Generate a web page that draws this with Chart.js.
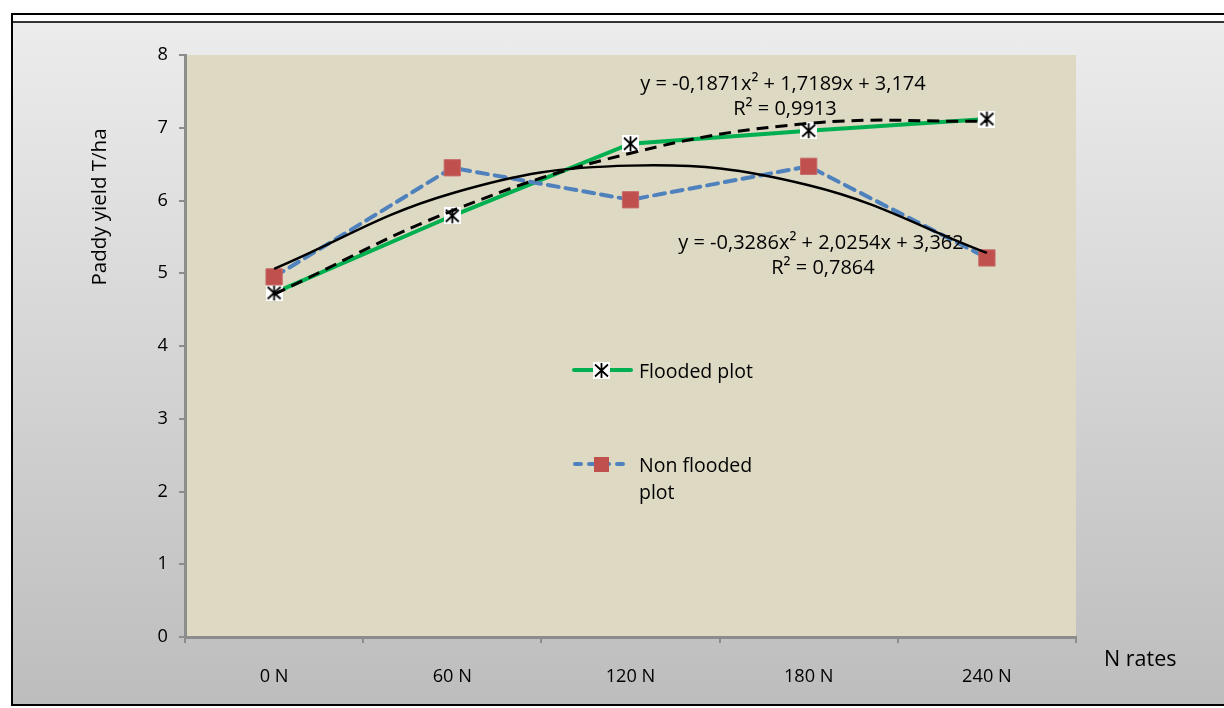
<!DOCTYPE html>
<html>
<head>
<meta charset="utf-8">
<script src="https://cdn.jsdelivr.net/npm/chart.js@4.4.1/dist/chart.umd.min.js"></script>
<style>
  html, body { margin: 0; padding: 0; background: #fff; }
  #frame { position: absolute; left: 11px; top: 13px; width: 1230px; height: 689px;
           border: 2px solid #000; border-right: none; background: #fff; }
  #panel { position: absolute; left: 0; top: 6px; right: 0; bottom: 0;
           border-top: 2px solid #333; background: linear-gradient(#ececec, #bdbdbd); }
  #wrap { position: absolute; left: 0; top: 0; width: 1224px; height: 708px; }
</style>
</head>
<body>
<div id="frame"><div id="panel"></div></div>
<div id="wrap"><canvas id="chart" width="1224" height="708"></canvas></div>
<script>
// Paddy yield vs N rate, flooded vs non flooded plots, with Excel-style
// 2nd-order trendlines and their equations.
const categories = ['0 N', '60 N', '120 N', '180 N', '240 N'];
const floodedYield = [4.73, 5.79, 6.78, 6.96, 7.12];
const nonFloodedYield = [4.95, 6.45, 6.01, 6.47, 5.21];
// trendline values read at each category
const floodedTrend = [4.71, 5.86, 6.65, 7.06, 7.09];
const nonFloodedTrend = [5.06, 6.10, 6.48, 6.21, 5.28];
const yTicks = [0, 1, 2, 3, 4, 5, 6, 7, 8];

const FONT = '"Open Sans", "Noto Sans", sans-serif';
const GREEN = '#00b050';
const BLUE = '#4f81bd';
const RED = '#c0504d';

// white square with a black asterisk, like the Excel star marker
function starMarker() {
  const c = document.createElement('canvas');
  c.width = 17; c.height = 17;
  const g = c.getContext('2d');
  g.fillStyle = '#fff';
  g.fillRect(0, 0, 17, 17);
  g.strokeStyle = '#000';
  g.lineWidth = 1.8;
  g.beginPath();
  g.moveTo(8.5, 1); g.lineTo(8.5, 16);
  g.moveTo(2, 2.5); g.lineTo(15, 14.5);
  g.moveTo(15, 2.5); g.lineTo(2, 14.5);
  g.stroke();
  return c;
}
const STAR = starMarker();

const decor = {
  id: 'decor',
  beforeDraw(chart) {
    const { ctx, chartArea: a } = chart;
    ctx.save();
    ctx.fillStyle = '#ddd9c3';
    ctx.fillRect(a.left, a.top, a.right - a.left, a.bottom - a.top);
    ctx.restore();
  },
  afterDraw(chart) {
    const ctx = chart.ctx;
    ctx.save();
    ctx.fillStyle = '#000';
    ctx.font = '20.5px ' + FONT;
    ctx.textBaseline = 'middle';

    // axis titles
    ctx.save();
    ctx.translate(100, 207);
    ctx.rotate(-Math.PI / 2);
    ctx.textAlign = 'center';
    ctx.fillText('Paddy yield T/ha', 0, 0);
    ctx.restore();
    ctx.textAlign = 'left';
    ctx.font = '21.5px ' + FONT;
    ctx.fillText('N rates', 1104, 660);

    // trendline equations
    ctx.font = '20px ' + FONT;
    ctx.textAlign = 'center';
    ctx.fillText('y = -0,1871x² + 1,7189x + 3,174', 783, 84);
    ctx.fillText('R² = 0,9913', 785, 109);
    ctx.fillText('y = -0,3286x² + 2,0254x + 3,362', 821, 243);
    ctx.fillText('R² = 0,7864', 823, 268);

    // legend
    ctx.lineCap = 'round';
    ctx.strokeStyle = GREEN;
    ctx.lineWidth = 4;
    ctx.beginPath(); ctx.moveTo(574, 370); ctx.lineTo(631, 370); ctx.stroke();
    ctx.drawImage(STAR, 593, 362);
    ctx.strokeStyle = BLUE;
    ctx.setLineDash([6, 8]);
    ctx.beginPath(); ctx.moveTo(575, 464); ctx.lineTo(627, 464); ctx.stroke();
    ctx.setLineDash([]);
    ctx.fillStyle = RED;
    ctx.fillRect(594, 457, 15, 15);
    ctx.fillStyle = '#000';
    ctx.font = '19.5px ' + FONT;
    ctx.textAlign = 'left';
    ctx.fillText('Flooded plot', 639, 372);
    ctx.fillText('Non flooded', 639, 466);
    ctx.fillText('plot', 639, 493);
    ctx.restore();
  }
};

new Chart(document.getElementById('chart'), {
  type: 'line',
  data: {
    labels: categories,
    datasets: [
      {
        label: 'Poly. (Flooded plot)',
        data: floodedTrend,
        borderColor: '#000',
        borderWidth: 3,
        borderDash: [12, 7],
        pointRadius: 0,
        tension: 0.4,
        order: 0
      },
      {
        label: 'Poly. (Non flooded plot)',
        data: nonFloodedTrend,
        borderColor: '#000',
        borderWidth: 2.4,
        pointRadius: 0,
        tension: 0.4,
        order: 0
      },
      {
        label: 'Flooded plot',
        data: floodedYield,
        borderColor: GREEN,
        borderWidth: 4,
        pointStyle: STAR,
        pointRadius: 8,
        tension: 0,
        order: 2
      },
      {
        label: 'Non flooded plot',
        data: nonFloodedYield,
        borderColor: BLUE,
        borderWidth: 4,
        borderDash: [11, 7],
        borderCapStyle: 'round',
        pointStyle: 'rect',
        pointRadius: 11.5,
        pointBackgroundColor: RED,
        pointBorderColor: '#c66a67',
        pointBorderWidth: 1,
        tension: 0,
        order: 1
      }
    ]
  },
  options: {
    responsive: false,
    animation: false,
    events: [],
    layout: { padding: { left: 88, right: 148, top: 55, bottom: 11 } },
    plugins: { legend: { display: false }, tooltip: { enabled: false } },
    scales: {
      x: {
        offset: true,
        grid: { offset: true, drawOnChartArea: false, tickLength: 6, color: '#8c8c8c', lineWidth: 2 },
        border: { color: '#8c8c8c', width: 3 },
        ticks: { color: '#000', font: { family: FONT, size: 18.2 }, padding: 23, maxRotation: 0 },
        afterFit(scale) { scale.height = 60; }
      },
      y: {
        min: 0,
        max: 8,
        afterBuildTicks(scale) { scale.ticks = yTicks.map((v) => ({ value: v })); },
        grid: { drawOnChartArea: false, tickLength: 6, color: '#8c8c8c', lineWidth: 2 },
        border: { color: '#8c8c8c', width: 3 },
        ticks: { color: '#000', font: { family: FONT, size: 18.2 }, padding: 11 },
        afterFit(scale) { scale.width = 97; }
      }
    }
  },
  plugins: [decor]
});
</script>
</body>
</html>
